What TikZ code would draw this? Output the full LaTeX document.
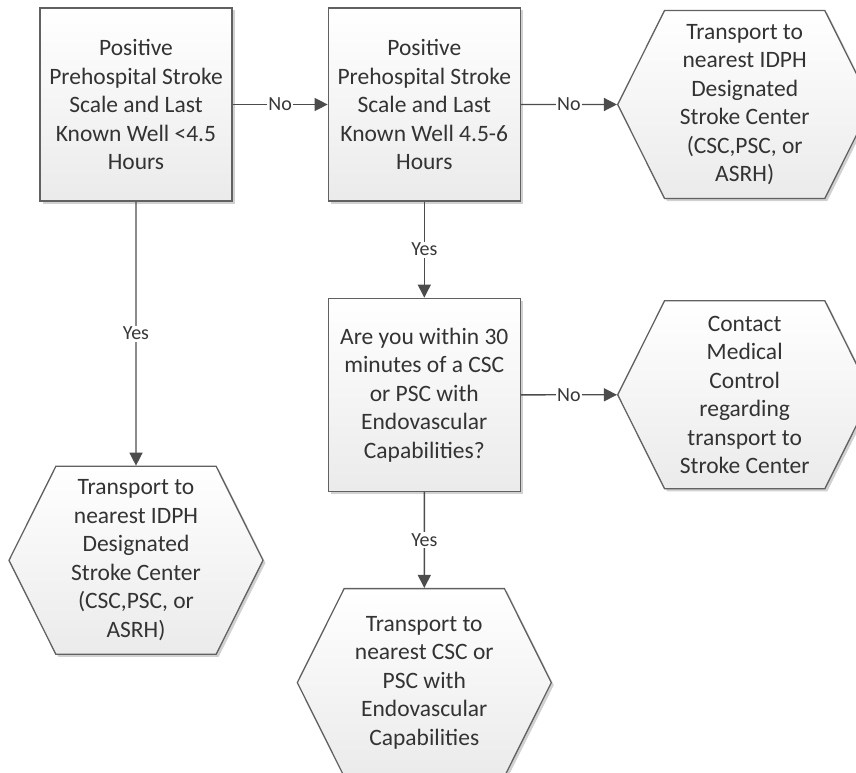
\documentclass[tikz,border=0pt]{standalone}
\usepackage{fontspec}
\setmainfont{Carlito}
\usetikzlibrary{shapes.symbols, arrows.meta, positioning, shadows}
\tikzstyle{decision} = [rectangle, minimum width=192pt, minimum height=193pt, inner sep=0pt, align=center, draw=black!62, line width=1.3pt, top color=white, bottom color=black!8, text=black!80, font=\fontsize{23.5}{28.5}\selectfont, drop shadow={shadow xshift=2.5pt, shadow yshift=-2.5pt, opacity=0.18, fill=black}]
\tikzstyle{outcome} = [signal, signal to=west and east, signal pointer angle=127, minimum width=254pt, minimum height=188pt, inner sep=0pt, align=center, draw=black!62, line width=1.3pt, top color=white, bottom color=black!8, text=black!80, font=\fontsize{23.5}{28.5}\selectfont, drop shadow={shadow xshift=2.5pt, shadow yshift=-2.5pt, opacity=0.18, fill=black}]
\tikzstyle{arrow} = [line width=1.4pt, draw=black!70, -{Triangle[length=13pt, width=13pt]}]
\tikzstyle{answer} = [midway, fill=white, inner sep=1.5pt, text=black!78, font=\fontsize{20}{22}\selectfont]

\begin{document}
\begin{tikzpicture}[x=1pt, y=-1pt, node distance=96pt]
\useasboundingbox (0,0) rectangle (856,773);
\clip (0,0) rectangle (856,773);

% Nodes
\node (pps1) [decision] at (136,104.5) {Positive\\Prehospital Stroke\\Scale and Last\\Known Well <4.5\\Hours};
\node (pps2) [decision, right=95pt of pps1] {Positive\\Prehospital Stroke\\Scale and Last\\Known Well 4.5-6\\Hours};
\node (idphR) [outcome, right=of pps2] {Transport to\\nearest IDPH\\Designated\\Stroke Center\\(CSC,PSC, or\\ASRH)};
\node (within) [decision, below=of pps2] {Are you within 30\\minutes of a CSC\\or PSC with\\Endovascular\\Capabilities?};
\node (medctl) [outcome, right=of within] {Contact\\Medical\\Control\\regarding\\transport to\\Stroke Center};
\node (endo) [outcome, below=of within] {Transport to\\nearest CSC or\\PSC with\\Endovascular\\Capabilities};
\node (idphL) [outcome, below=264pt of pps1] {Transport to\\nearest IDPH\\Designated\\Stroke Center\\(CSC,PSC, or\\ASRH)};

% Arrows
\draw [arrow] (pps1) -- node[answer] {No} (pps2);
\draw [arrow] (pps2) -- node[answer] {No} (idphR);
\draw [arrow] (pps1) -- node[answer] {Yes} (idphL);
\draw [arrow] (pps2) -- node[answer] {Yes} (within);
\draw [arrow] (within) -- node[answer] {No} (medctl);
\draw [arrow] (within) -- node[answer] {Yes} (endo);

\end{tikzpicture}
\end{document}
